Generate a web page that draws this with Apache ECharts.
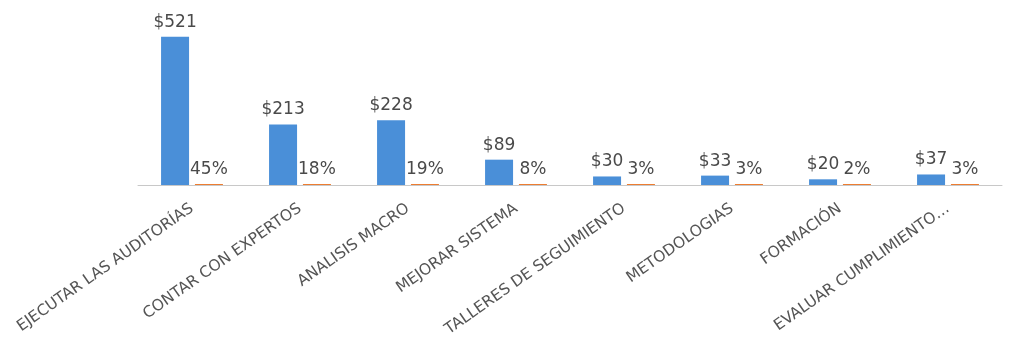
<!DOCTYPE html>
<html>
<head>
<meta charset="utf-8">
<script src="https://cdn.jsdelivr.net/npm/echarts@6/dist/echarts.min.js"></script>
<style>
html,body{margin:0;padding:0;background:#fff;}
#chart{width:1013px;height:349px;}
</style>
</head>
<body>
<div id="chart"></div>
<script>
const categories = ['EJECUTAR LAS AUDITORÍAS','CONTAR CON EXPERTOS','ANALISIS MACRO','MEJORAR SISTEMA','TALLERES DE SEGUIMIENTO','METODOLOGIAS','FORMACIÓN','EVALUAR CUMPLIMIENTO…'];
const costValues = [521, 213, 228, 89, 30, 33, 20, 37];
const shareValues = [0.45, 0.18, 0.19, 0.08, 0.03, 0.03, 0.02, 0.03];

const chart = echarts.init(document.getElementById('chart'));
const labelFont = '"DejaVu Sans", sans-serif';
chart.setOption({
  animation: false,
  grid: {left: 138, right: 11, top: 20, bottom: 164, containLabel: false},
  xAxis: {
    type: 'category',
    data: categories,
    axisLine: {show: true, lineStyle: {color: '#c8c8c8', width: 1}},
    axisTick: {show: false},
    axisLabel: {
      rotate: 35, margin: 22, interval: 0,
      color: '#555555', fontSize: 15.5, fontFamily: '"DejaVu Sans", sans-serif'
    }
  },
  yAxis: {
    type: 'value', min: 0, max: 580,
    show: false, splitLine: {show: false}
  },
  series: [
    {
      type: 'bar', data: costValues,
      barWidth: 28, barGap: '21%',
      itemStyle: {color: '#4a8fd8'},
      label: {
        show: true, position: 'top', distance: 6,
        formatter: p => '$' + p.value,
        color: '#4a4a4a', fontSize: 17, fontFamily: labelFont
      }
    },
    {
      type: 'bar', data: shareValues,
      barWidth: 28, barMinHeight: 1,
      itemStyle: {color: '#ed7d31'},
      label: {
        show: true, position: 'top', distance: 6,
        formatter: p => Math.round(p.value * 100) + '%',
        color: '#4a4a4a', fontSize: 17, fontFamily: labelFont
      }
    }
  ]
});
</script>
</body>
</html>
